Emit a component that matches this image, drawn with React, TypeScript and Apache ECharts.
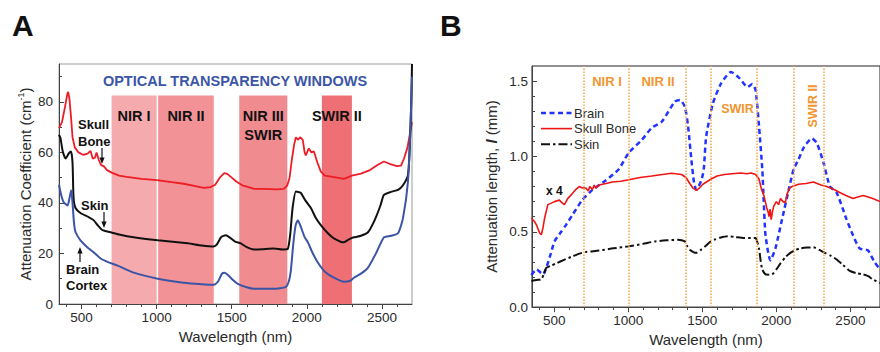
import React, { useEffect, useRef } from 'react';
import * as echarts from 'echarts';

const FONT = 'Arial, "Liberation Sans", Helvetica, sans-serif';

// ---------- Panel A: attenuation coefficient (cm^-1) ----------
const aWaveTicks = [500, 1000, 1500, 2000, 2500];
const aWaveMinor = [400, 600, 700, 800, 900, 1100, 1200, 1300, 1400, 1600, 1700, 1800, 1900, 2100, 2200, 2300, 2400, 2600];
const aValTicks = [0, 20, 40, 60, 80];
const aValMinor = [10, 30, 50, 70, 90];

const aSkull: number[][] = [
  [350, 69.6], [370, 72], [390, 78], [405, 83], [411, 84], [420, 81], [430, 74], [440, 66], [455, 62], [480, 60],
  [513, 59], [540, 59.5], [560, 60.6], [575, 57.5], [590, 58], [600, 60], [615, 57], [630, 55], [647, 54.6], [670, 53],
  [700, 52], [750, 50.8], [800, 50.3], [900, 49.5], [1000, 49], [1100, 48.2], [1180, 47.6], [1250, 46.8], [1313, 46],
  [1360, 46.3], [1390, 47.2], [1420, 50], [1450, 51.8], [1470, 51.5], [1500, 50], [1530, 48.5], [1570, 47], [1600, 46.5],
  [1650, 45.6], [1700, 45.6], [1760, 45.5], [1800, 45.4], [1847, 45.6], [1870, 47], [1885, 50], [1900, 57], [1915, 63],
  [1927, 66], [1940, 65], [1955, 66], [1973, 65], [1985, 60], [1993, 58.8], [2013, 61.6], [2030, 60], [2047, 60.4],
  [2070, 56], [2093, 52.4], [2120, 50.8], [2160, 50.4], [2200, 50], [2247, 49.5], [2300, 50.8], [2360, 51.6], [2420, 53],
  [2470, 55], [2513, 56.4], [2550, 55.5], [2600, 54.6], [2627, 54.8], [2647, 57.6], [2670, 62], [2685, 67], [2700, 72],
];
const aSkin: number[][] = [
  [350, 67], [360, 65.6], [375, 60.4], [395, 57.6], [415, 59.6], [430, 60.4], [440, 56], [447, 42], [460, 38], [493, 36],
  [547, 34.4], [580, 33.2], [610, 31], [640, 29.2], [693, 28.4], [750, 27.5], [847, 26.4], [1007, 25.2], [1207, 24],
  [1300, 23.2], [1380, 22.8], [1400, 23.5], [1430, 26.5], [1460, 27.2], [1490, 26.2], [1520, 24.8], [1560, 24], [1600, 22.5],
  [1647, 21.6], [1700, 21.7], [1780, 22], [1840, 21.6], [1873, 21.8], [1890, 28], [1905, 38], [1927, 44.5], [1950, 44.2],
  [1960, 44], [1990, 41], [2027, 38], [2060, 34], [2093, 31.2], [2140, 28], [2180, 26], [2247, 24.4], [2280, 25.6],
  [2313, 26.4], [2360, 27], [2407, 28.4], [2450, 33], [2490, 39], [2513, 43.2], [2560, 44.4], [2607, 45.2], [2640, 47],
  [2673, 51], [2685, 62], [2695, 80], [2700, 95],
];
const aBrain: number[][] = [
  [350, 47.2], [365, 43], [380, 40.4], [407, 39], [420, 42], [431, 45], [440, 40], [450, 32], [460, 28.5], [493, 25.2],
  [540, 22.4], [580, 20.5], [627, 18], [680, 16.5], [740, 15.2], [847, 12.4], [1007, 10], [1180, 8.4], [1300, 7.8],
  [1380, 7.6], [1410, 9], [1435, 12], [1453, 12.4], [1475, 11.5], [1510, 9.4], [1540, 8], [1600, 6.6], [1647, 6],
  [1720, 6], [1780, 6], [1860, 6.8], [1880, 9], [1893, 13], [1910, 24], [1925, 31], [1940, 33.2], [1960, 30.5],
  [1985, 26.5], [2007, 24.4], [2040, 20], [2073, 16.4], [2120, 12.8], [2180, 10.4], [2247, 8.8], [2290, 9.2], [2313, 10.4],
  [2360, 12], [2407, 14.4], [2460, 20], [2513, 26.4], [2560, 27], [2607, 28], [2640, 34], [2673, 48.4], [2690, 70], [2700, 90],
];
// transparency windows
const aWindowNames = ['NIR I', 'NIR II', 'NIR III\nSWIR', 'SWIR II'];
const aWindowStart = [700, 1010, 1550, 2100];
const aWindowEnd = [1000, 1380, 1870, 2300];
const aWindowTop = 82.5;
const aWindowColors = ['#f5aaae', '#f29296', '#f08b8f', '#ee7074'];

// ---------- Panel B: attenuation length (mm) ----------
const bWaveTicks = [500, 1000, 1500, 2000, 2500];
const bWaveMinor = [400, 600, 700, 800, 900, 1100, 1200, 1300, 1400, 1600, 1700, 1800, 1900, 2100, 2200, 2300, 2400, 2600];
const bValTicks = [0, 0.5, 1.0, 1.5];
const bValMinor = [0.1, 0.2, 0.3, 0.4, 0.6, 0.7, 0.8, 0.9, 1.1, 1.2, 1.3, 1.4];
const bWindowLines = [700, 1000, 1385, 1555, 1865, 2115, 2320];
const bLegendNames = ['Brain', 'Skull Bone', 'Skin'];

const bBrain: number[][] = [
  [346, 0.212], [380, 0.25], [424, 0.217], [469, 0.33], [502, 0.436], [547, 0.5], [580, 0.546], [622, 0.61], [689, 0.71],
  [756, 0.776], [847, 0.84], [936, 0.915], [1003, 1.024], [1092, 1.11], [1159, 1.19], [1226, 1.23], [1315, 1.364],
  [1349, 1.375], [1382, 1.33], [1404, 1.2], [1426, 0.98], [1445, 0.82], [1460, 0.78], [1493, 0.84], [1510, 0.915],
  [1526, 1.13], [1571, 1.35], [1627, 1.485], [1694, 1.56], [1750, 1.52], [1805, 1.46], [1838, 1.48], [1860, 1.44],
  [1883, 1.2], [1905, 0.915], [1915, 0.7], [1927, 0.476], [1960, 0.31], [1994, 0.39], [2039, 0.585], [2084, 0.78],
  [2117, 0.915], [2150, 0.98], [2184, 1.057], [2239, 1.12], [2273, 1.09], [2318, 0.96], [2362, 0.8], [2407, 0.76],
  [2473, 0.585], [2518, 0.476], [2562, 0.39], [2618, 0.377], [2662, 0.3], [2700, 0.25],
];
const bSkull: number[][] = [
  [346, 0.59], [365, 0.57], [380, 0.546], [402, 0.49], [413, 0.48], [425, 0.53], [435, 0.59], [457, 0.68], [480, 0.69],
  [502, 0.7], [535, 0.71], [555, 0.69], [569, 0.68], [580, 0.7], [591, 0.72], [610, 0.74], [624, 0.755], [645, 0.78],
  [669, 0.8], [690, 0.79], [714, 0.79], [730, 0.77], [740, 0.8], [758, 0.78], [770, 0.81], [780, 0.79], [803, 0.81],
  [850, 0.82], [892, 0.83], [950, 0.835], [1003, 0.845], [1080, 0.86], [1159, 0.87], [1230, 0.88], [1293, 0.888],
  [1360, 0.88], [1390, 0.86], [1415, 0.82], [1437, 0.79], [1460, 0.775], [1480, 0.79], [1504, 0.815], [1560, 0.85],
  [1600, 0.87], [1649, 0.88], [1700, 0.885], [1760, 0.89], [1800, 0.885], [1830, 0.89], [1860, 0.88], [1883, 0.85],
  [1900, 0.78], [1916, 0.74], [1935, 0.66], [1945, 0.63], [1950, 0.6], [1958, 0.65], [1965, 0.58], [1975, 0.64],
  [1983, 0.67], [2000, 0.7], [2015, 0.68], [2028, 0.72], [2045, 0.7], [2061, 0.695], [2072, 0.75], [2090, 0.79],
  [2106, 0.8], [2150, 0.815], [2200, 0.82], [2251, 0.83], [2300, 0.81], [2340, 0.8], [2390, 0.78], [2428, 0.76],
  [2470, 0.74], [2518, 0.72], [2550, 0.73], [2585, 0.74], [2620, 0.73], [2651, 0.72], [2700, 0.7],
];
const bSkin: number[][] = [
  [346, 0.173], [380, 0.18], [413, 0.184], [430, 0.22], [446, 0.26], [480, 0.275], [513, 0.29], [570, 0.315], [624, 0.337],
  [670, 0.355], [714, 0.366], [803, 0.375], [900, 0.39], [1003, 0.403], [1100, 0.42], [1181, 0.436], [1260, 0.443],
  [1337, 0.447], [1382, 0.436], [1400, 0.4], [1415, 0.38], [1440, 0.365], [1460, 0.36], [1490, 0.38], [1516, 0.4],
  [1550, 0.43], [1582, 0.447], [1620, 0.46], [1671, 0.47], [1720, 0.465], [1783, 0.458], [1860, 0.458], [1872, 0.43],
  [1883, 0.39], [1895, 0.3], [1905, 0.25], [1927, 0.217], [1950, 0.215], [1972, 0.217], [2000, 0.25], [2028, 0.29],
  [2060, 0.33], [2094, 0.36], [2130, 0.38], [2161, 0.39], [2210, 0.395], [2251, 0.397], [2290, 0.38], [2328, 0.36],
  [2370, 0.34], [2407, 0.316], [2450, 0.28], [2496, 0.24], [2540, 0.225], [2585, 0.217], [2620, 0.205], [2651, 0.184],
  [2700, 0.16],
];

const AXIS_COLOR = '#444';
const TEXT_COLOR = '#2a2a2a';
const B_COLORS = ['#2233ff', '#f01515', '#111'];
const B_DASH: any[] = [[5, 3.5], null, [9, 3, 2.5, 3]];
const B_WIDTH = [2.5, 1.6, 2];

function txt(text: string, x: number, y: number, opts: any = {}) {
  return {
    type: 'text',
    x,
    y,
    rotation: opts.rotation || 0,
    silent: true,
    z: 20,
    style: {
      text,
      fill: opts.color || '#111',
      font: `${opts.weight || 'bold'} ${opts.size || 13}px ${FONT}`,
      align: opts.align || 'left',
      verticalAlign: 'middle',
    },
  };
}

function arrow(x: number, y1: number, y2: number) {
  const s = y2 > y1 ? 1 : -1;
  return {
    type: 'group',
    silent: true,
    z: 20,
    children: [
      { type: 'line', shape: { x1: x, y1, x2: x, y2: y2 - s * 5 }, style: { stroke: '#111', lineWidth: 1.2 } },
      { type: 'polygon', shape: { points: [[x - 2.6, y2 - s * 6.5], [x + 2.6, y2 - s * 6.5], [x, y2]] }, style: { fill: '#111' } },
    ],
  };
}

function legendRow(i: number) {
  const y = 113 + i * 15.6;
  return {
    type: 'group',
    silent: true,
    z: 20,
    children: [
      {
        type: 'line', shape: { x1: 541, y1: y, x2: 572, y2: y },
        style: { stroke: B_COLORS[i], lineWidth: B_WIDTH[i], lineDash: B_DASH[i] || undefined },
      },
      {
        type: 'text', x: 574, y,
        style: { text: bLegendNames[i], fill: TEXT_COLOR, font: `13px ${FONT}`, align: 'left', verticalAlign: 'middle' },
      },
    ],
  };
}

function valueAxisX(gridIndex: number, ticks: number[], name: string, nameGap: number) {
  return {
    type: 'value', gridIndex, position: 'bottom', min: 350, max: 2700,
    axisLine: { show: true, lineStyle: { color: AXIS_COLOR, width: 1 } },
    axisTick: { show: true, customValues: ticks, length: 5, inside: false, lineStyle: { color: AXIS_COLOR } },
    axisLabel: {
      customValues: ticks, fontSize: 13.5, color: TEXT_COLOR, fontFamily: FONT, margin: 6,
      formatter: (v: number) => String(v),
    },
    splitLine: { show: false },
    name, nameLocation: 'middle', nameGap,
    nameTextStyle: { fontSize: 15, color: TEXT_COLOR, fontFamily: FONT },
  };
}
function minorAxisX(gridIndex: number, ticks: number[]) {
  return {
    type: 'value', gridIndex, position: 'bottom', min: 350, max: 2700,
    axisLine: { show: false },
    axisTick: { show: true, customValues: ticks, length: 3, inside: false, lineStyle: { color: AXIS_COLOR } },
    axisLabel: { show: false }, splitLine: { show: false },
  };
}

export default function App() {
  const ref = useRef<HTMLDivElement>(null);
  useEffect(() => {
    if (!ref.current) return;
    const chart = echarts.init(ref.current, undefined, { renderer: 'svg' });

    const aAreas = aWindowNames.map((n, i) => [
      {
        xAxis: aWindowStart[i], yAxis: 0, name: n,
        itemStyle: { color: aWindowColors[i], opacity: 1 },
        label: {
          show: true, position: 'insideTop', distance: 11, formatter: n,
          fontSize: 14.5, fontWeight: 'bold', color: '#111', fontFamily: FONT, lineHeight: 19,
        },
      },
      { xAxis: aWindowEnd[i], yAxis: aWindowTop },
    ]);

    const bSeriesData = [bBrain, bSkull, bSkin];

    const option: any = {
      animation: false,
      backgroundColor: '#fff',
      textStyle: { fontFamily: FONT },
      grid: [
        { left: 59, top: 64, width: 353, height: 240, show: true, borderColor: '#9a9a9a', borderWidth: 1, backgroundColor: 'transparent' },
        { left: 532, top: 66, width: 352, height: 243, show: true, borderColor: '#222', borderWidth: 1, backgroundColor: 'transparent' },
      ],
      xAxis: [
        valueAxisX(0, aWaveTicks, 'Wavelength (nm)', 23),
        minorAxisX(0, aWaveMinor),
        valueAxisX(1, bWaveTicks, 'Wavelength (nm)', 23),
        minorAxisX(1, bWaveMinor),
      ],
      yAxis: [
        {
          type: 'value', gridIndex: 0, position: 'left', min: 0, max: 95,
          axisLine: { show: true, lineStyle: { color: AXIS_COLOR } },
          axisTick: { show: true, customValues: aValTicks, inside: true, length: 5, lineStyle: { color: AXIS_COLOR } },
          axisLabel: { customValues: aValTicks, fontSize: 13.5, color: TEXT_COLOR, fontFamily: FONT, margin: 6 },
          splitLine: { show: false },
          name: '{a|Attenuation Coefficient (cm}{s|-1}{a|)}',
          nameLocation: 'middle', nameGap: 25, nameRotate: 90,
          nameTextStyle: {
            fontSize: 15, color: TEXT_COLOR, fontFamily: FONT,
            rich: {
              a: { fontSize: 15, color: TEXT_COLOR, fontFamily: FONT, lineHeight: 18 },
              s: { fontSize: 9, color: TEXT_COLOR, fontFamily: FONT, verticalAlign: 'top', lineHeight: 18 },
            },
          },
        },
        {
          type: 'value', gridIndex: 0, position: 'left', min: 0, max: 95,
          axisLine: { show: false },
          axisTick: { show: true, customValues: aValMinor, inside: true, length: 3, lineStyle: { color: AXIS_COLOR } },
          axisLabel: { show: false }, splitLine: { show: false },
        },
        {
          type: 'value', gridIndex: 1, position: 'left', min: 0, max: 1.6,
          axisLine: { show: true, lineStyle: { color: AXIS_COLOR } },
          axisTick: { show: true, customValues: bValTicks, inside: true, length: 5, lineStyle: { color: AXIS_COLOR } },
          axisLabel: {
            customValues: bValTicks, fontSize: 13.5, color: TEXT_COLOR, fontFamily: FONT, margin: 4,
            formatter: (v: number) => v.toFixed(1),
          },
          splitLine: { show: false },
          name: '{a|Attenuation length, }{i|l}{a| (mm)}',
          nameLocation: 'middle', nameGap: 33, nameRotate: 90,
          nameTextStyle: {
            fontSize: 15, color: TEXT_COLOR, fontFamily: FONT,
            rich: {
              a: { fontSize: 15, color: TEXT_COLOR, fontFamily: FONT },
              i: { fontSize: 15, color: TEXT_COLOR, fontFamily: FONT, fontStyle: 'italic', fontWeight: 'bold' },
            },
          },
        },
        {
          type: 'value', gridIndex: 1, position: 'left', min: 0, max: 1.6,
          axisLine: { show: false },
          axisTick: { show: true, customValues: bValMinor, inside: true, length: 3, lineStyle: { color: AXIS_COLOR } },
          axisLabel: { show: false }, splitLine: { show: false },
        },
      ],
      series: [
        {
          type: 'line', name: 'A windows', xAxisIndex: 0, yAxisIndex: 0, data: [], z: 1, silent: true,
          markArea: { silent: true, data: aAreas },
        },
        {
          type: 'line', name: 'A Skull Bone', xAxisIndex: 0, yAxisIndex: 0, data: aSkull, z: 3,
          symbol: 'none', silent: true, lineStyle: { color: '#ee1c25', width: 1.8 },
        },
        {
          type: 'line', name: 'A Skin', xAxisIndex: 0, yAxisIndex: 0, data: aSkin, z: 3, smooth: 0.2,
          symbol: 'none', silent: true, lineStyle: { color: '#111', width: 2 },
        },
        {
          type: 'line', name: 'A Brain Cortex', xAxisIndex: 0, yAxisIndex: 0, data: aBrain, z: 3, smooth: 0.2,
          symbol: 'none', silent: true, lineStyle: { color: '#3b54a6', width: 2 },
        },
        {
          type: 'line', name: 'B windows', xAxisIndex: 2, yAxisIndex: 2, data: [], z: 1, silent: true,
          markLine: {
            silent: true, symbol: ['none', 'none'], label: { show: false },
            lineStyle: { color: '#f5a24a', type: 'dotted', width: 1.5 },
            data: bWindowLines.map((x) => ({ xAxis: x })),
          },
        },
        ...bLegendNames.map((n, i) => ({
          type: 'line', name: n, xAxisIndex: 2, yAxisIndex: 2, data: bSeriesData[i],
          z: i === 1 ? 4 : 3, smooth: i === 1 ? false : 0.2,
          symbol: 'none', silent: true, itemStyle: { color: B_COLORS[i] },
          lineStyle: { color: B_COLORS[i], width: B_WIDTH[i], type: B_DASH[i] || 'solid' },
        })),
      ],
      graphic: [
        txt('A', 12, 25, { size: 30 }),
        txt('B', 440, 25, { size: 30 }),
        txt('OPTICAL TRANSPARENCY WINDOWS', 235, 81, { size: 14.5, color: '#3b56a8', align: 'center' }),
        txt('Skull', 78, 124),
        txt('Bone', 78, 141),
        arrow(102, 148, 164),
        txt('Skin', 81, 205),
        arrow(104, 212, 228),
        txt('Brain', 66, 269),
        txt('Cortex', 66, 285),
        arrow(80, 262, 247),
        txt('NIR I', 607, 81, { size: 13, color: '#f0952f', align: 'center' }),
        txt('NIR II', 658, 81, { size: 13, color: '#f0952f', align: 'center' }),
        txt('SWIR', 737.5, 109, { size: 12.5, color: '#f0952f', align: 'center' }),
        txt('SWIR II', 813, 106, { size: 12.5, color: '#f0952f', align: 'center', rotation: Math.PI / 2 }),
        txt('x 4', 546, 191, { size: 12 }),
        legendRow(0),
        legendRow(1),
        legendRow(2),
      ],
    };
    chart.setOption(option);
    return () => chart.dispose();
  }, []);
  return <div ref={ref} style={{ width: 880, height: 352, position: 'absolute', left: 0, top: 0 }} />;
}
